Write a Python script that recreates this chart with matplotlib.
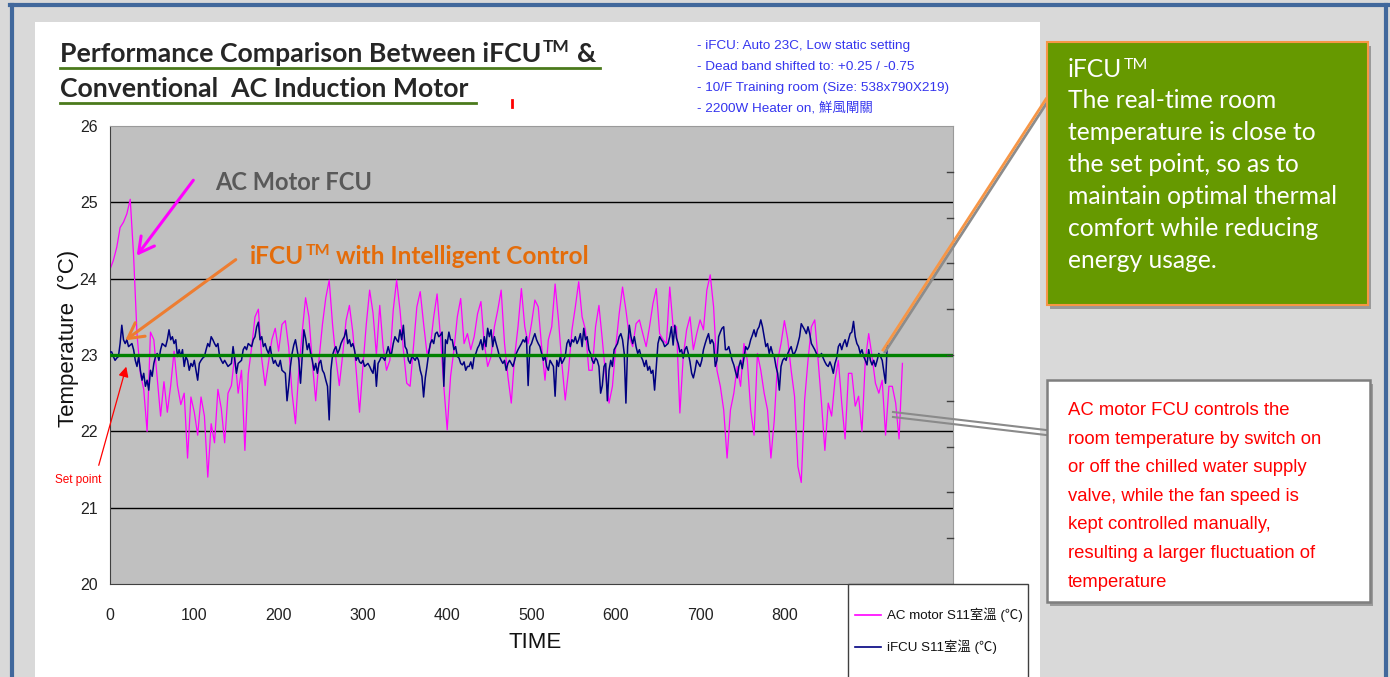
import matplotlib
matplotlib.use('Agg')
import matplotlib.pyplot as plt
import numpy as np
from matplotlib.patches import Rectangle, FancyArrowPatch
from matplotlib.lines import Line2D
from matplotlib import font_manager

# ---------------- data ----------------
AC_STEP = 4    # time units between readings of the AC motor series
IFCU_STEP = 2  # time units between readings of the iFCU series
ac_motor_temp = [
    24.12, 24.24, 24.41, 24.67, 24.74, 24.85, 25.04, 24.30, 23.28, 22.76,
    22.55, 22.00, 23.30, 23.20, 22.70, 22.20, 22.65, 22.25, 22.60, 23.05,
    22.60, 22.35, 22.50, 21.65, 22.45, 22.25, 21.95, 22.45, 22.20, 21.40,
    22.10, 21.85, 22.55, 22.30, 21.85, 22.50, 22.60, 23.00, 22.50, 22.80,
    21.75, 22.75, 23.10, 23.50, 23.60, 22.95, 22.60, 22.90, 23.20, 23.35,
    23.05, 23.40, 23.45, 23.10, 22.50, 22.10, 22.80, 23.30, 23.75, 23.50,
    22.90, 22.40, 22.95, 23.40, 23.75, 23.98, 23.40, 22.95, 22.60, 23.00,
    23.45, 23.65, 23.30, 22.80, 22.25, 22.85, 23.40, 23.85, 23.55, 23.00,
    23.65, 23.10, 22.80,
    22.93, 23.59, 23.98, 23.59, 23.07, 22.63, 22.59, 23.11, 23.63, 23.83,
    23.41, 23.02, 23.11, 23.50, 23.80, 23.24, 22.59, 22.02, 22.72, 23.07,
    23.50, 23.74, 23.15, 23.28, 23.07, 23.24, 23.54, 23.70, 23.15, 22.85,
    22.98, 23.37, 23.59, 23.85, 23.15, 22.72, 22.37, 22.98, 23.37, 23.87,
    23.37, 23.15, 23.41, 23.72, 23.63, 23.11, 22.67, 23.20, 23.37, 23.93,
    23.46, 22.89, 22.41, 22.80, 23.33, 23.63, 23.96, 23.50, 23.33, 22.80,
    22.80, 23.37, 23.65, 23.20, 22.72, 22.37, 22.59, 23.11, 23.54, 23.89,
    23.59, 23.24, 23.11, 23.41, 23.46, 23.28, 23.11, 23.37, 23.67, 23.87,
    23.28, 23.20, 23.15,
    23.89, 23.37, 23.37, 22.24, 22.98, 23.33, 23.50, 23.07, 23.28, 23.46,
    23.33, 23.85, 24.05, 23.63, 22.80, 22.59, 22.28, 21.65, 22.28, 22.50,
    22.85, 22.59, 23.15, 22.93, 22.28, 21.95, 23.02, 22.80, 22.50, 22.28,
    21.65, 22.15, 22.93, 23.15, 23.45, 23.20, 22.80, 22.46, 21.54, 21.33,
    22.41, 22.93, 23.37, 23.46, 22.93, 22.37, 21.75, 22.37, 22.20, 22.67,
    22.93, 22.37, 21.90, 22.76, 22.76, 22.33, 22.46, 22.00, 22.93, 23.28,
    22.98, 22.63, 22.50, 22.67, 21.95, 22.59, 22.59, 22.37, 21.90, 22.89,
]
ifcu_temp = [
    # time 0 - 330
    23.04, 23.04, 22.98, 22.93, 22.96, 22.98, 23.15, 23.39, 23.20, 23.15,
    23.20, 23.11, 23.13, 23.15, 23.07, 22.93, 22.85, 22.98, 22.80, 22.67,
    22.76, 22.59, 22.67, 22.54, 22.80, 22.72, 22.89, 22.98, 23.02, 22.93,
    23.07, 23.15, 23.13, 23.11, 23.20, 23.33, 23.20, 23.24, 23.15, 23.20,
    22.98, 23.07, 22.98, 23.07, 22.85, 22.98, 22.93, 22.80, 22.89, 22.85,
    22.93, 22.80, 22.67, 22.89, 22.93, 22.96, 22.98, 23.07, 23.15, 23.11,
    23.24, 23.20, 23.15, 23.11, 23.15, 22.98, 22.93, 22.89, 22.93, 22.89,
    22.85, 22.87, 22.89, 23.11, 22.93, 22.76, 22.89, 22.91, 22.93, 23.07,
    23.11, 23.07, 23.15, 23.13, 23.11, 23.20, 23.24, 23.37, 23.43, 23.20,
    23.24, 23.11, 23.15, 23.07, 23.02, 23.11, 22.98, 22.89, 22.93, 22.87,
    22.85, 22.93, 22.80, 22.78, 22.76, 22.40, 22.60, 22.85, 23.02, 23.13,
    23.20, 23.07, 22.93, 22.63, 22.98, 23.33, 23.22, 23.07, 23.15, 23.02,
    22.93, 22.80, 22.89, 22.76, 22.89, 22.93, 22.80, 22.76, 22.67, 22.59,
    22.15, 22.80, 23.00, 23.07, 23.11, 23.02, 23.07, 23.15, 23.20, 23.24,
    23.33, 23.15, 23.20, 23.11, 23.15, 23.07, 22.93, 22.98, 22.91, 22.89,
    22.93, 22.85, 22.87, 22.89, 22.85, 22.80, 22.76, 22.93, 22.59, 22.89,
    22.93, 22.98, 22.96, 22.93, 23.02, 23.11,
    # time 332 - 662
    23.02, 23.02, 23.15, 23.24, 23.20, 23.17, 23.33, 23.20, 23.39, 23.11,
    23.07, 22.93, 22.89, 22.98, 22.96, 22.93, 22.98, 22.93, 22.80, 22.72,
    22.45, 22.70, 22.85, 23.02, 23.15, 23.20, 23.15, 23.28, 23.30, 23.24,
    23.26, 23.30, 22.59, 23.20, 23.15, 23.30, 23.20, 23.20, 23.07, 23.11,
    22.98, 22.96, 22.89, 22.87, 22.91, 22.80, 22.85, 22.85, 22.91, 22.82,
    22.98, 23.02, 23.09, 23.13, 23.20, 23.07, 23.24, 23.11, 23.35, 23.24,
    23.33, 23.11, 23.24, 23.15, 23.07, 22.98, 22.93, 22.89, 22.93, 22.80,
    22.89, 22.93, 22.89, 22.85, 22.93, 23.02, 23.07, 23.11, 23.15, 23.20,
    23.17, 23.24, 22.60, 23.11, 23.15, 23.22, 23.28, 23.20, 23.15, 23.11,
    23.02, 22.93, 22.98, 22.85, 22.80, 22.93, 22.89, 22.85, 22.46, 22.93,
    22.85, 22.98, 22.89, 22.93, 22.98, 23.15, 23.20, 23.11, 23.20, 23.17,
    23.24, 23.15, 23.20, 23.28, 23.11, 23.35, 23.20, 23.24, 23.07, 23.02,
    22.93, 22.89, 22.96, 22.93, 22.85, 22.50, 22.60, 22.85, 22.89, 22.40,
    22.80, 22.93, 22.85, 23.07, 23.11, 23.15, 23.24, 23.28, 23.20, 23.02,
    22.37, 23.11, 23.39, 23.24, 23.15, 23.24, 23.11, 23.02, 23.07, 22.98,
    22.93, 22.85, 22.93, 22.80, 22.85, 22.76, 22.80, 22.54, 22.85, 23.15,
    23.24, 23.20, 23.17, 23.11, 23.13, 23.15,
    # time 664 - 922
    23.24, 23.37, 23.13, 23.39, 23.22, 23.15, 23.04, 23.07, 22.96, 23.07,
    23.11, 23.02, 22.91, 22.76, 22.70, 22.80, 22.93, 22.89, 22.85, 22.93,
    23.07, 23.15, 23.22, 23.28, 23.15, 23.20, 23.15, 22.85, 22.93, 23.24,
    23.30, 23.35, 23.37, 23.07, 23.07, 23.11, 23.02, 22.93, 22.87, 22.78,
    22.70, 22.85, 22.93, 22.82, 22.96, 23.11, 23.07, 23.11, 23.20, 23.26,
    23.33, 23.24, 23.33, 23.37, 23.46, 23.37, 23.24, 23.11, 23.15, 23.02,
    23.11, 23.02, 22.98, 22.85, 22.76, 22.54, 22.85, 22.93, 22.96, 22.93,
    23.02, 23.07, 23.11, 23.02, 23.02, 23.07, 23.15, 23.24, 23.41, 23.37,
    23.33, 23.28, 23.37, 23.28, 23.15, 23.11, 23.07, 23.02, 22.98, 22.98,
    23.02, 22.96, 22.91, 22.87, 22.85, 22.91, 22.85, 22.76, 22.89, 22.96,
    23.11, 23.15, 23.07, 23.15, 23.20, 23.11, 23.20, 23.28, 23.30, 23.44,
    23.24, 23.15, 23.11, 23.02, 23.07, 22.98, 22.93, 22.87, 23.07, 22.93,
    22.87, 22.93, 22.85, 22.93, 23.02, 22.98, 22.93, 22.78, 22.63, 23.15,
]
set_point = 23.0
y_ticks = [20, 21, 22, 23, 24, 25, 26]
x_ticks = [0, 100, 200, 300, 400, 500, 600, 700, 800]
series_labels = ['AC motor S11室溫 (℃)', 'iFCU S11室溫 (℃)']
notes = ['- iFCU: Auto 23C, Low static setting',
         '- Dead band shifted to: +0.25 / -0.75',
         '- 10/F Training room (Size: 538x790X219)',
         '- 2200W Heater on, 鮮風閘關']
green_lines = ['The real-time room', 'temperature is close to',
               'the set point, so as to', 'maintain optimal thermal',
               'comfort while reducing', 'energy usage.']
red_lines = ['AC motor FCU controls the', 'room temperature by switch on',
             'or off the chilled water supply', 'valve, while the fan speed is',
             'kept controlled manually,', 'resulting a larger fluctuation of',
             'temperature']

# ---------------- figure ----------------
W, H = 1390, 677
fig = plt.figure(figsize=(W / 100, H / 100), dpi=100, facecolor='#d9d9d9')


def fx(x):
    return x / W


def fy(y):
    return 1 - y / H


names = {f.name for f in font_manager.fontManager.ttflist}
SANS = ['Liberation Sans', 'Noto Sans CJK TC', 'DejaVu Sans']
if 'Liberation Sans Narrow' in names:
    NARROW, NARROW_SIZE = ['Liberation Sans Narrow'], 15
else:
    NARROW, NARROW_SIZE = ['Liberation Sans'], 13.3
CAL = ['Lato', 'Open Sans', 'DejaVu Sans']

# page background elements
fig.patches.append(Rectangle((fx(35), 0), fx(1040) - fx(35), fy(22), transform=fig.transFigure,
                             facecolor='white', edgecolor='none', zorder=-5))
for (x0, y0, x1, y1) in [(10, 5, 1388, 5), (12, 5, 12, 677), (1386, 5, 1386, 677)]:
    fig.add_artist(Line2D([fx(x0), fx(x1)], [fy(y0), fy(y1)], transform=fig.transFigure,
                          color='#41689c', lw=3, zorder=1))

# ---------------- axes ----------------
ax = fig.add_axes([fx(110), fy(584), fx(953) - fx(110), fy(126) - fy(584)])
ax.set_facecolor('#c0c0c0')
ax.set_xlim(0, 1000)
ax.set_ylim(20, 26)
ax.set_yticks(y_ticks)
ax.set_xticks(x_ticks)
ax.tick_params(length=0, labelsize=11.5, colors='#222222')
ax.tick_params(axis='x', pad=17)
ax.tick_params(axis='y', pad=9)
for lab in ax.get_xticklabels() + ax.get_yticklabels():
    lab.set_family(SANS)
for v in y_ticks[1:-1]:
    ax.axhline(v, color='black', lw=1.0, zorder=1)
for s in ['left', 'bottom']:
    ax.spines[s].set_color('#404040')
for s in ['top', 'right']:
    ax.spines[s].set_color('#9a9a9a')
for k in range(1, 10):
    ax.plot([0.993, 1.0], [k / 10, k / 10], transform=ax.transAxes, color='#404040',
            lw=1, clip_on=False, zorder=5)

t_ac = np.arange(len(ac_motor_temp)) * AC_STEP
t_if = np.arange(len(ifcu_temp)) * IFCU_STEP
l1, = ax.plot(t_ac, ac_motor_temp, color='#ff00ff', lw=0.9, zorder=2, label=series_labels[0])
l2, = ax.plot(t_if, ifcu_temp, color='#000080', lw=1.1, zorder=3, label=series_labels[1])
ax.axhline(set_point, color='#008000', lw=2.4, zorder=4)

fig.text(fx(68), fy(338), 'Temperature  (°C)', rotation=90, ha='center', va='center',
         fontsize=16, family=SANS, color='#111111')
fig.text(fx(535), fy(642), 'TIME', ha='center', va='center', fontsize=16, family=SANS,
         color='#111111')

renderer = fig.canvas.get_renderer()


def rich(x, y, parts, **kw):
    for s, extra in parts:
        d = dict(kw)
        d.update(extra)
        dy = d.pop('dy', 0)
        gap = d.pop('gap', 0)
        x += gap
        t = fig.text(fx(x), fy(y - dy), s, va='baseline', ha='left', **d)
        x += t.get_window_extent(renderer).width
    return x


# title
tkw = dict(family=CAL, fontweight='bold', color='#262626', fontsize=19.2)
rich(60, 62, [('Performance Comparison Between iFCU', {}),
              ('TM', dict(fontsize=12.5, dy=10, gap=1)),
              ('&', dict(gap=8))], **tkw)
rich(60, 97, [('Conventional  AC Induction Motor', {})], **tkw)
fig.add_artist(Line2D([fx(60), fx(600)], [fy(68), fy(68)], transform=fig.transFigure,
                      color='#4b7a1c', lw=2))
fig.add_artist(Line2D([fx(60), fx(476)], [fy(103), fy(103)], transform=fig.transFigure,
                      color='#4b7a1c', lw=2))
fig.add_artist(Line2D([fx(512), fx(512)], [fy(100), fy(107)], transform=fig.transFigure,
                      color='red', lw=2))

# notes
for i, s in enumerate(notes):
    fig.text(fx(697), fy(46 + 20.8 * i), s, ha='left', va='center', fontsize=9.7,
             family=SANS, color='#3535ee')

# annotations inside plot
rich(215, 190, [('AC Motor FCU', {})], family=CAL, fontweight='bold', color='#595959',
     fontsize=17)
okw = dict(family=CAL, fontweight='bold', color='#e46c0a', fontsize=17.6)
rich(250, 264, [('iFCU', {}), ('TM', dict(fontsize=11.5, dy=9, gap=1)),
                ('with Intelligent Control', dict(gap=6))], **okw)


def arrow(p0, p1, color, lw, style):
    fig.add_artist(FancyArrowPatch((fx(p0[0]), fy(p0[1])), (fx(p1[0]), fy(p1[1])),
                                   transform=fig.transFigure, arrowstyle=style,
                                   color=color, lw=lw, mutation_scale=1, zorder=6))


arrow((195, 178), (135, 258), '#ff00ff', 2.2, '->,head_length=11,head_width=6')
arrow((238, 258), (123, 342), '#ed7d31', 2.2, '->,head_length=11,head_width=6')
arrow((98, 468), (127, 364), 'red', 0.9, '-|>,head_length=6,head_width=3')
fig.text(fx(78), fy(480), 'Set point', ha='center', va='center', fontsize=8.5,
         family=SANS, color='red')

# connector lines
fig.add_artist(Line2D([fx(885), fx(1048)], [fy(352), fy(101)], transform=fig.transFigure,
                      color='#8c8c8c', lw=2, zorder=6))
fig.add_artist(Line2D([fx(883), fx(1046)], [fy(350), fy(99)], transform=fig.transFigure,
                      color='#f79646', lw=2, zorder=6))
fig.add_artist(Line2D([fx(893), fx(1046)], [fy(412), fy(430)], transform=fig.transFigure,
                      color='#8a8a8a', lw=1.5, zorder=6))
fig.add_artist(Line2D([fx(893), fx(1046)], [fy(417), fy(435)], transform=fig.transFigure,
                      color='#8a8a8a', lw=1.5, zorder=6))


def box(x0, y0, x1, y1, fc, ec, lw, shadow=True):
    if shadow:
        fig.patches.append(Rectangle((fx(x0 + 3), fy(y1 + 4)), fx(x1) - fx(x0), fy(y0) - fy(y1),
                                     transform=fig.transFigure, facecolor='#9a9a9a',
                                     edgecolor='none', zorder=7))
    fig.patches.append(Rectangle((fx(x0), fy(y1)), fx(x1) - fx(x0), fy(y0) - fy(y1),
                                 transform=fig.transFigure, facecolor=fc, edgecolor=ec,
                                 lw=lw, zorder=8))


box(1047, 42, 1368, 305, '#669900', '#f79646', 1.5)
box(1047, 380, 1370, 602, 'white', '#7f7f7f', 1.8)
box(848, 584, 1028, 690, 'white', '#404040', 1.0, shadow=False)

gkw = dict(family=CAL, color='white', fontsize=17.7, zorder=9)
rich(1068, 77, [('iFCU', {}), ('TM', dict(fontsize=11.5, dy=8, gap=1))], **gkw)
for i, s in enumerate(green_lines):
    fig.text(fx(1068), fy(108 + 32 * i), s, ha='left', va='baseline', **gkw)
for i, s in enumerate(red_lines):
    fig.text(fx(1068), fy(415 + 28.6 * i), s, ha='left', va='baseline', family=NARROW,
             fontsize=NARROW_SIZE, color='#ff0000', zorder=9)

# legend
for i, ln in enumerate([l1, l2]):
    yy = 615 + 32 * i
    fig.add_artist(Line2D([fx(855), fx(881)], [fy(yy), fy(yy)], transform=fig.transFigure,
                          color=ln.get_color(), lw=1.2, zorder=9))
    fig.text(fx(887), fy(yy), ln.get_label(), ha='left', va='center', fontsize=9.6,
             family=SANS, color='#111111', zorder=9)

fig.savefig('out.png', dpi=100, facecolor=fig.get_facecolor())
